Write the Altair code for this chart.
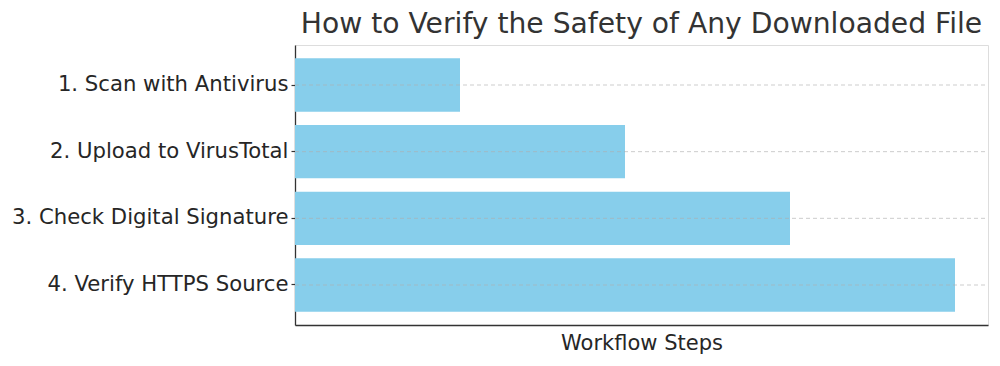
import altair as alt
import pandas as pd

steps = ["1. Scan with Antivirus", "2. Upload to VirusTotal",
         "3. Check Digital Signature", "4. Verify HTTPS Source"]
values = [1, 2, 3, 4]

df = pd.DataFrame({"step": steps, "value": values})

yenc = alt.Y("step:N", sort=steps, title=None,
             scale=alt.Scale(paddingInner=0.2, paddingOuter=0.2),
             axis=alt.Axis(labelFont="DejaVu Sans", labelFontSize=21.2,
                           labelColor="#262626", labelPadding=3, tickSize=4,
                           tickColor="#333333", tickWidth=1.2,
                           domainColor="#333333", domainWidth=1.3,
                           grid=False, labelLimit=400))

xenc = alt.X("value:Q", title="Workflow Steps",
             scale=alt.Scale(domain=[0, 4.2], nice=False, zero=True),
             axis=alt.Axis(labels=False, ticks=False, grid=False,
                           domainColor="#333333", domainWidth=1.3,
                           titleFont="DejaVu Sans", titleFontSize=21,
                           titleFontWeight="normal", titleColor="#262626",
                           titlePadding=7))

bars = alt.Chart(df).mark_bar(color="#87CEEB").encode(y=yenc, x=xenc)

grid = alt.Chart(df).mark_rule(color="#b0b0b0", strokeDash=[4, 3],
                               strokeWidth=0.9, opacity=0.7).encode(
    y=alt.Y("step:N", sort=steps),
    x=alt.value(0), x2=alt.value(693))

chart = alt.layer(bars, grid).properties(
    width=693, height=280,
    title=alt.TitleParams("How to Verify the Safety of Any Downloaded File",
                          font="DejaVu Sans", fontSize=28.2, fontWeight="normal",
                          color="#333333", anchor="middle", offset=6),
    padding={"left": 287, "top": 37, "right": 4, "bottom": 32},
    autosize=alt.AutoSizeParams(type="none"),
).configure_view(stroke=None).configure(background="white")

chart.save("out.html", embed_options={"renderer": "svg", "actions": False})
